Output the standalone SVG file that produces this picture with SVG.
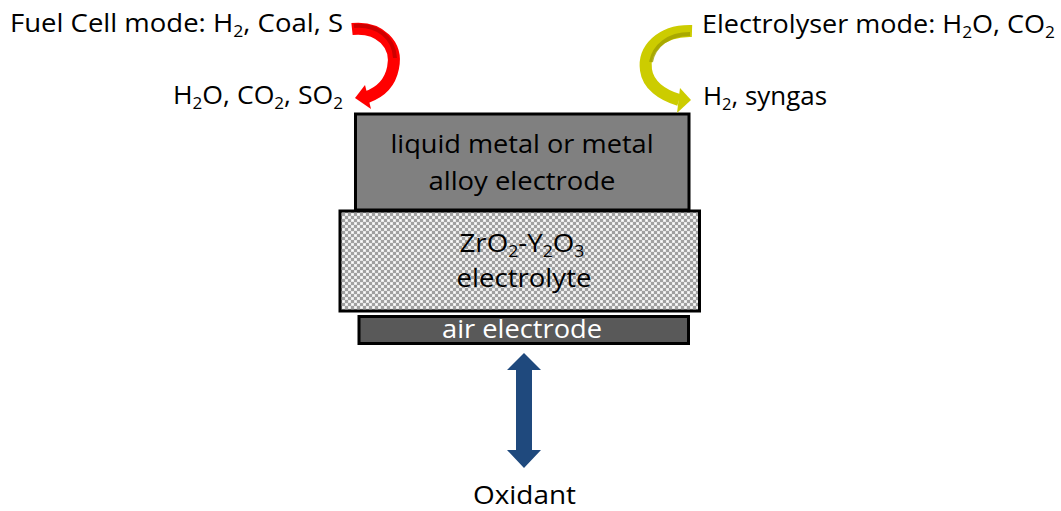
<svg xmlns="http://www.w3.org/2000/svg" width="1061" height="511" viewBox="0 0 1061 511">
<style>
.t{font-family:"Open Sans","Noto Sans",sans-serif;font-size:25px;fill:#000}
.c{text-anchor:middle}
.w{fill:#fff}
.box{stroke:#000;stroke-width:3}
.sub{font-size:16px}
</style>
<defs>
<pattern id="chk" width="6" height="6" patternUnits="userSpaceOnUse">
<rect width="6" height="6" fill="#a0a0a0"/>
<rect x="0" y="0" width="3" height="3" fill="#e6e6e6"/>
<rect x="3" y="3" width="3" height="3" fill="#e6e6e6"/>
<circle cx="1.5" cy="1.5" r="0.8" fill="#fff"/>
<circle cx="4.5" cy="4.5" r="0.8" fill="#fff"/>
</pattern>
</defs>
<rect width="1061" height="511" fill="#fff"/>

<g id="liquid-electrode">
<rect class="box" x="355.5" y="114" width="333.5" height="96" fill="#808080"/>
<text class="t c" x="522" y="153" textLength="263" lengthAdjust="spacingAndGlyphs">liquid metal or metal</text>
<text class="t c" x="522" y="190" textLength="187" lengthAdjust="spacingAndGlyphs">alloy electrode</text>
</g>

<g id="electrolyte">
<rect class="box" x="340" y="211" width="359.5" height="100" fill="url(#chk)"/>
<text class="t c" x="522" y="252" textLength="125" lengthAdjust="spacingAndGlyphs">ZrO<tspan class="sub" dy="5">2</tspan><tspan dy="-5">-Y</tspan><tspan class="sub" dy="5">2</tspan><tspan dy="-5">O</tspan><tspan class="sub" dy="5">3</tspan></text>
<text class="t c" x="524" y="287" textLength="135" lengthAdjust="spacingAndGlyphs">electrolyte</text>
</g>

<g id="air-electrode">
<rect class="box" x="359" y="316.5" width="329.5" height="27" fill="#595959"/>
<text class="t c w" x="522" y="338" textLength="160" lengthAdjust="spacingAndGlyphs">air electrode</text>
</g>

<g id="fuel-cell-label">
<text class="t" x="10" y="32" textLength="333" lengthAdjust="spacingAndGlyphs">Fuel Cell mode: H<tspan class="sub" dy="5">2</tspan><tspan dy="-5">, Coal, S</tspan></text>
<text class="t" x="173" y="104" textLength="170" lengthAdjust="spacingAndGlyphs">H<tspan class="sub" dy="5">2</tspan><tspan dy="-5">O, CO</tspan><tspan class="sub" dy="5">2</tspan><tspan dy="-5">, SO</tspan><tspan class="sub" dy="5">2</tspan></text>
</g>

<g id="electrolyser-label">
<text class="t" x="702" y="33" textLength="353" lengthAdjust="spacingAndGlyphs">Electrolyser mode: H<tspan class="sub" dy="5">2</tspan><tspan dy="-5">O, CO</tspan><tspan class="sub" dy="5">2</tspan></text>
<text class="t" x="703" y="105" textLength="124" lengthAdjust="spacingAndGlyphs">H<tspan class="sub" dy="5">2</tspan><tspan dy="-5">, syngas</tspan></text>
</g>

<g id="oxidant">
<text class="t c" x="524.5" y="504" textLength="103" lengthAdjust="spacingAndGlyphs">Oxidant</text>
</g>

<g id="connectors">
<path d="M352 29 C380 26 398 45 393 68 C390 83 381 92 367 97" fill="none" stroke="#ff0000" stroke-width="12"/>
<path d="M354 26 C378 24 394 38 395 58" fill="none" stroke="#c00000" stroke-width="4" opacity="0.8"/>
<polygon points="355,98 365,85 371,109" fill="#ff0000"/>

<path d="M692 31 C660 30 643 50 646 70 C648 85 662 95 679 100" fill="none" stroke="#cccc00" stroke-width="12"/>
<path d="M690 34 C668 34 654 46 651 62" fill="none" stroke="#a0a000" stroke-width="4" opacity="0.8"/>
<polygon points="691,100 680,88 677,113" fill="#cccc00"/>

<polygon points="524,353 541,370 532,370 532,450 541,450 524,468 507,450 516,450 516,370 507,370" fill="#1f497d"/>
</g>
</svg>
